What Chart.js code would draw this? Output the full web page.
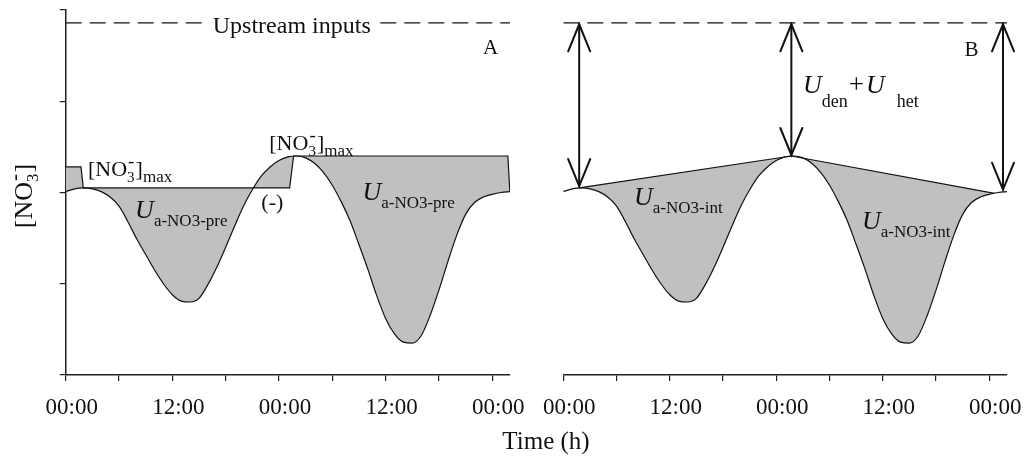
<!DOCTYPE html>
<html><head><meta charset="utf-8">
<script src="https://cdn.jsdelivr.net/npm/chart.js@4.4.1/dist/chart.umd.min.js"></script>
<style>
html,body{margin:0;padding:0;background:#fff}
#wrap{position:relative;width:1026px;height:458px;overflow:hidden;background:#fff}
canvas{position:absolute;left:0;top:0}
</style>
</head><body>
<div id="wrap"><canvas id="a" width="1026" height="458"></canvas><canvas id="b" width="1026" height="458"></canvas></div>
<script>
// ---- data (hours, [NO3-] in arbitrary units) ----
const curveHours = [0,1,2,3,4,5,6,7,8,9,10,11,12,13,14,15,16,17,18,19,20,21,22,23,24,25,26,27,28,29,30,31,32,33,34,35,36,37,38,39,40,41,42,43,44,45,46,47,48,49,50];
const concentration = [2.01,2.04,2.05,2.04,2.01,1.95,1.85,1.68,1.49,1.32,1.15,1.00,0.88,0.81,0.80,0.84,0.99,1.18,1.40,1.63,1.85,2.03,2.18,2.28,2.35,2.39,2.40,2.38,2.32,2.22,2.08,1.90,1.69,1.43,1.16,0.87,0.62,0.45,0.36,0.35,0.43,0.65,0.93,1.24,1.53,1.76,1.89,1.95,1.98,2.00,2.01];
const maxHours = [0, 1.72, 1.98, 25.2, 25.65, 49.76, 49.98];
const maxConc = [2.28, 2.28, 2.05, 2.05, 2.40, 2.40, 2.01];
const interpHours = [1.8, 25.7, 48.6];
const interpConc = [2.05, 2.40, 1.99];
const upstreamHoursA = [0, 15.7, 25.5, 35.4, 50];
const upstreamA = [3.86, 3.86, null, 3.86, 3.86];
const upstreamHoursB = [0, 50];
const upstreamB = [3.86, 3.86];
const tickHours = [0,6,12,18,24,30,36,42,48];
const tickLabels = ['00:00','','12:00','','00:00','','12:00','','00:00'];
const yTicks = [0,1,2,3,4];
const arrowHours = [1.79, 25.7, 49.55];
const arrowBottom = [2.06, 2.40, 2.02];

const FONT = '"Liberation Serif", "Times New Roman", serif';
const INK = '#111';
const GRAY = '#c0c0c0';

const pts = (xs, ys) => xs.map((x, i) => ({x, y: ys[i]}));

function drawRuns(ctx, x, y, runs, align) {
  let prevStart = 0, cx = 0;
  const placed = [];
  for (const r of runs) {
    ctx.font = (r.italic ? 'italic ' : '') + r.size + 'px ' + FONT;
    const w = ctx.measureText(r.t).width;
    let sx;
    if (r.stack) { sx = prevStart + (r.gap || 0); cx = Math.max(cx, sx + w); }
    else { sx = cx + (r.gap || 0); prevStart = sx; cx = sx + w; }
    placed.push({r, sx});
  }
  const x0 = align === 'center' ? x - cx / 2 : x;
  for (const p of placed) {
    ctx.font = (p.r.italic ? 'italic ' : '') + p.r.size + 'px ' + FONT;
    ctx.fillText(p.r.t, x0 + p.sx, y + (p.r.dy || 0));
  }
}

const noMax = [
  {t:'[NO', size:22},
  {t:'3', size:15, dy:6},
  {t:'-', size:19, dy:-9, stack:true, gap:1},
  {t:']', size:22, gap:1},
  {t:'max', size:17, dy:6}
];

function arrowHead(ctx, x, y, dir) {
  ctx.beginPath();
  ctx.moveTo(x - 11, y + dir * 27);
  ctx.lineTo(x, y);
  ctx.lineTo(x + 11, y + dir * 27);
  ctx.stroke();
}

const annotA = {
  id: 'annotA',
  afterDatasetsDraw(chart) {
    const {ctx, scales: {x, y}} = chart;
    const X = v => x.getPixelForValue(v), Y = v => y.getPixelForValue(v);
    ctx.save();
    ctx.fillStyle = INK;
    ctx.textBaseline = 'alphabetic';
    ctx.textAlign = 'left';
    drawRuns(ctx, X(25.44), Y(3.748), [{t:'Upstream inputs', size:24}], 'center');
    drawRuns(ctx, X(47.81), Y(3.518), [{t:'A', size:21}], 'center');
    drawRuns(ctx, X(2.51), Y(2.181), noMax);
    drawRuns(ctx, X(22.91), Y(2.466), noMax);
    drawRuns(ctx, X(7.81), Y(1.721), [{t:'U', size:26, italic:true}, {t:'a-NO3-pre', size:17, dy:8}]);
    drawRuns(ctx, X(33.39), Y(1.918), [{t:'U', size:26, italic:true}, {t:'a-NO3-pre', size:17, dy:8}]);
    drawRuns(ctx, X(23.25), Y(1.819), [{t:'(-)', size:22}], 'center');
    // axis titles
    drawRuns(ctx, 546, 449, [{t:'Time (h)', size:25}], 'center');
    ctx.translate(32, 196);
    ctx.rotate(-Math.PI / 2);
    drawRuns(ctx, 0, 0, [
      {t:'[NO', size:26},
      {t:'3', size:17, dy:6},
      {t:'-', size:21, dy:-11, stack:true, gap:1},
      {t:']', size:26, gap:1}
    ], 'center');
    ctx.restore();
  }
};

const annotB = {
  id: 'annotB',
  afterDatasetsDraw(chart) {
    const {ctx, scales: {x, y}} = chart;
    const X = v => x.getPixelForValue(v), Y = v => y.getPixelForValue(v);
    ctx.save();
    ctx.strokeStyle = INK;
    ctx.lineWidth = 2;
    ctx.lineCap = 'round';
    ctx.lineJoin = 'miter';
    const top = Y(upstreamB[0]);
    arrowHours.forEach((h, i) => {
      const px = X(h), bot = Y(arrowBottom[i]);
      ctx.beginPath(); ctx.moveTo(px, top + 1); ctx.lineTo(px, bot - 1); ctx.stroke();
      arrowHead(ctx, px, top + 1.5, 1);
      arrowHead(ctx, px, bot - 1, -1);
    });
    ctx.fillStyle = INK;
    ctx.textBaseline = 'alphabetic';
    ctx.textAlign = 'left';
    drawRuns(ctx, X(45.99), Y(3.496), [{t:'B', size:21}], 'center');
    drawRuns(ctx, X(27.01), Y(3.090), [
      {t:'U', size:26, italic:true}, {t:'den', size:18, dy:14},
      {t:'+', size:27, gap:1}, {t:'U', size:26, italic:true, gap:2}, {t:'het', size:18, dy:14, gap:12}
    ]);
    drawRuns(ctx, X(7.97), Y(1.863), [{t:'U', size:26, italic:true}, {t:'a-NO3-int', size:17, dy:8}]);
    drawRuns(ctx, X(33.65), Y(1.6), [{t:'U', size:26, italic:true}, {t:'a-NO3-int', size:17, dy:8}]);
    ctx.restore();
  }
};

function scalesCfg(showY) {
  return {
    x: {
      type: 'linear', min: 0, max: 50,
      afterBuildTicks: s => { s.ticks = tickHours.map(v => ({value: v})); },
      afterFit: s => { s.height = 83; s.paddingLeft = 0; s.paddingRight = 0; },
      ticks: {
        autoSkip: false, maxRotation: 0, minRotation: 0, padding: 13, labelOffset: 6, color: INK,
        font: {family: FONT, size: 23},
        callback: (v, i) => tickLabels[i]
      },
      grid: {drawOnChartArea: false, drawTicks: true, tickLength: 6, color: '#222', lineWidth: 1.2},
      border: {display: true, color: '#222', width: 1.5}
    },
    y: {
      type: 'linear', min: 0, max: 4, display: showY,
      afterBuildTicks: s => { s.ticks = yTicks.map(v => ({value: v})); },
      afterFit: s => { s.width = 0; s.paddingTop = 0; s.paddingBottom = 0; },
      ticks: {display: false},
      grid: {drawOnChartArea: false, drawTicks: true, tickLength: 6, color: '#222', lineWidth: 1.2},
      border: {display: true, color: '#222', width: 1.5}
    }
  };
}

const common = {
  responsive: false, animation: false, devicePixelRatio: 1,
  plugins: {legend: {display: false}, tooltip: {enabled: false}},
  elements: {point: {radius: 0, hoverRadius: 0}}
};

new Chart(document.getElementById('a'), {
  type: 'line',
  data: {datasets: [
    {data: pts(curveHours, concentration), borderColor: INK, borderWidth: 1.2, cubicInterpolationMode: 'monotone', fill: false},
    {data: pts(maxHours, maxConc), borderColor: INK, borderWidth: 1.2, tension: 0, fill: '-1', backgroundColor: GRAY},
    {data: pts(upstreamHoursA, upstreamA), borderColor: INK, borderWidth: 1.2, borderDash: [16, 8], spanGaps: false, fill: false}
  ]},
  options: Object.assign({}, common, {
    layout: {padding: {left: 65.7, right: 516, top: 10, bottom: 0}},
    scales: scalesCfg(true)
  }),
  plugins: [annotA]
});

new Chart(document.getElementById('b'), {
  type: 'line',
  data: {datasets: [
    {data: pts(curveHours, concentration), borderColor: INK, borderWidth: 1.2, cubicInterpolationMode: 'monotone', fill: false},
    {data: pts(interpHours, interpConc), borderColor: INK, borderWidth: 1.2, tension: 0, fill: '-1', backgroundColor: GRAY},
    {data: pts(upstreamHoursB, upstreamB), borderColor: INK, borderWidth: 1.2, borderDash: [16, 8], fill: false}
  ]},
  options: Object.assign({}, common, {
    layout: {padding: {left: 563.3, right: 19, top: 10, bottom: 0}},
    scales: scalesCfg(false)
  }),
  plugins: [annotB]
});
</script>
</body></html>
